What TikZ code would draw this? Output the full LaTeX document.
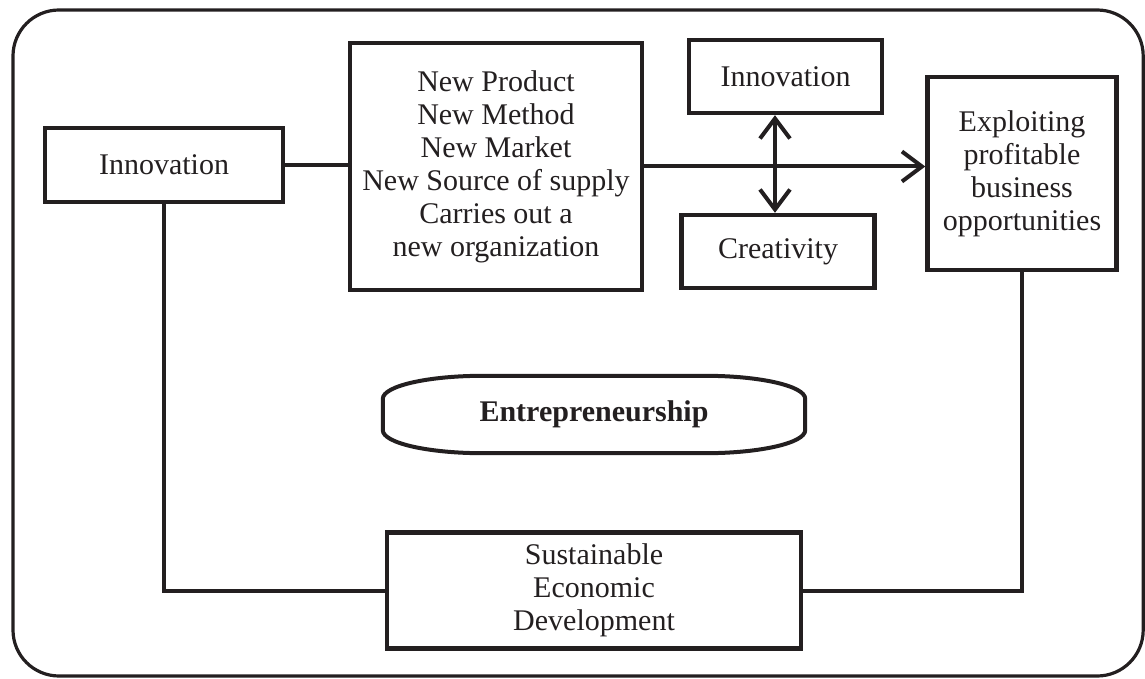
\documentclass[tikz,border=0pt]{standalone}
\usepackage{fontspec}
\setmainfont{Liberation Serif}
\usepackage{tikz}
\usetikzlibrary{positioning,arrows.meta}
\definecolor{ink}{RGB}{35,31,32}
\tikzset{
node distance=40pt, % centre to centre, as on grid is used below
box/.style={draw=ink, line width=2.2pt, rectangle, align=center, inner sep=0pt,
  text=ink, font=\fontsize{15}{16.5}\selectfont}, % every framed text
link/.style={draw=ink, line width=2pt}, % plain connectors
tip/.style={-{Straight Barb[length=10pt,width=15pt]}}, % open arrow head
twotips/.style={{Straight Barb[length=10pt,width=15pt]}-{Straight Barb[length=10pt,width=15pt]}}, % both ends
}

\begin{document}
\begin{tikzpicture}[on grid]
   \useasboundingbox (0,0) rectangle (572.5pt,-339.5pt);
   % outer frame
   \draw[draw=ink, line width=1.6pt, rounded corners=23pt]
      (6.5pt,-5pt) rectangle (571.6pt,-338pt);
   \node[box, minimum width=119pt, minimum height=37pt] (inn) at (82pt,-82.5pt) {Innovation};
   \node[box, minimum width=146pt, minimum height=123.5pt] (kinds) [right=166pt of inn, yshift=-0.75pt]
      {New Product\\New Method\\New Market\\New Source of supply\\Carries out a\\new organization};
   \node[box, minimum width=96.5pt, minimum height=36.5pt] (innov) [above right=45pt and 144.75pt of kinds] {Innovation};
   \node[box, minimum width=96.5pt, minimum height=36.5pt] (crea) [below right=42.5pt and 141pt of kinds] {Creativity};
   \node[box, minimum width=94.5pt, minimum height=96.5pt] (exploit) [below right=3.5pt and 263pt of kinds]
      {Exploiting\\profitable\\business\\opportunities};
   \node[box, draw=none, minimum width=209pt, minimum height=36.5pt, font=\fontsize{15}{16.5}\selectfont\bfseries]
      (entre) [below right=124pt and 49pt of kinds] {Entrepreneurship};
   \node[box, minimum width=207pt, minimum height=58pt] (sed) [below=88pt of entre]
      {Sustainable\\Economic\\Development};
   % flattened oval round Entrepreneurship
   \draw[draw=ink, line width=2pt]
      ([xshift=50pt]entre.north west) -- ([xshift=-50pt]entre.north east)
      arc[start angle=90, end angle=0, x radius=50pt, y radius=11.5pt]
      -- ([yshift=11.5pt]entre.south east)
      arc[start angle=0, end angle=-90, x radius=50pt, y radius=11.5pt]
      -- ([xshift=50pt]entre.south west)
      arc[start angle=270, end angle=180, x radius=50pt, y radius=11.5pt]
      -- ([yshift=-11.5pt]entre.north west)
      arc[start angle=180, end angle=90, x radius=50pt, y radius=11.5pt] -- cycle;
   \path[link]
      (inn.east) -- (inn.east -| kinds.west)
      (inn.south) |- (sed.west)
      (exploit.south) |- (sed.east);
   \draw[link, tip] (kinds.east) -- (kinds.east -| exploit.west);
   \draw[link, twotips] ([xshift=-1.5pt]crea.north |- innov.south) -- ([xshift=-1.5pt]crea.north);
\end{tikzpicture}
\end{document}
